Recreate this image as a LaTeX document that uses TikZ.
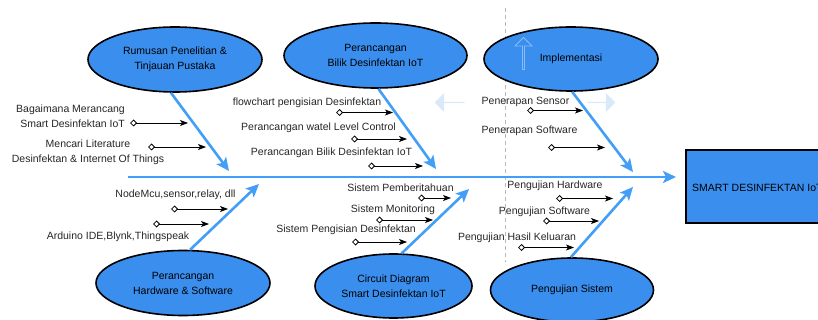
\documentclass[tikz,border=0pt]{standalone}
\usepackage{fontspec}
\setmainfont{Liberation Sans}
\usepackage{tikz}
\usetikzlibrary{positioning}
\usetikzlibrary{arrows.meta}
\usetikzlibrary{shapes}
\usetikzlibrary{calc}

\definecolor{fishblue}{RGB}{58,142,238}
\definecolor{bonecol}{RGB}{66,158,246}
\definecolor{hintblue}{RGB}{218,233,250}

\begin{document}
\begin{tikzpicture}[x=1pt,y=-1pt]

\tikzstyle{category}=[ellipse, draw, line width=1.6pt, fill=fishblue, align=center, inner sep=0pt, font=\fontsize{10.5}{15}\selectfont]
\tikzstyle{effect}=[rectangle, draw, line width=2.4pt, fill=fishblue, minimum width=145pt, minimum height=73pt, font=\fontsize{10.5}{13}\selectfont]
\tikzstyle{cause}=[text=black!85, inner sep=1pt, font=\fontsize{10.5}{14.5}\selectfont]
\tikzstyle{bone}=[draw=bonecol, line width=2.6pt, -{Stealth[length=13pt,width=12pt,inset=3pt]}]
\tikzstyle{sub}=[black, line width=0.8pt, {Diamond[open,length=7pt,width=7pt,line width=0.8pt]}-{Stealth[length=8pt,width=6pt,inset=2pt]}]
\tikzstyle{hint}=[single arrow, fill=hintblue, inner sep=0pt, single arrow head extend=3pt]

\useasboundingbox (0,0) rectangle (818,320);

% guide line behind everything
\draw[gray!55, line width=0.6pt, dash pattern=on 4pt off 3pt] (505,8) -- (505,262);

% categories
\node[category, minimum width=174pt, minimum height=65pt] (rumusan) at (175,59.5) {Rumusan Penelitian \&\\Tinjauan Pustaka};
\node[category, minimum width=183pt, minimum height=65pt] (bilik) at (375.5,55.5) {Perancangan\\Bilik Desinfektan IoT};
\node[category, minimum width=174pt, minimum height=64pt] (impl) at (571,59) {Implementasi};
\node[category, minimum width=174pt, minimum height=65pt] (hardware) at (183,283) {Perancangan\\Hardware \& Software};
\node[category, minimum width=157pt, minimum height=64pt] (circuit) at (393.5,286) {Circuit Diagram\\Smart Desinfektan IoT};
\node[category, minimum width=163pt, minimum height=64pt] (uji) at (572,290) {Pengujian Sistem};

% effect box
\node[effect] (smart) at (758.5,186.5) {};
\node[font=\fontsize{10.5}{13}\selectfont, anchor=west, inner sep=0pt] (smarttxt) at (692,188) {SMART DESINFEKTAN IoT};

% spine
\coordinate (tail) at (128,177);
\coordinate (head) at (676,177);
\draw[bone] (tail) -- (head);

% bones
\coordinate (j1) at (229,171);
\coordinate (j2) at (436,169);
\coordinate (j3) at (633,172);
\coordinate (j4) at (259,184);
\coordinate (j5) at (469,189);
\coordinate (j6) at (633,187);
\draw[bone] (rumusan.263) -- (j1);
\draw[bone] (bilik.275) -- (j2);
\draw[bone] (impl.272) -- (j3);
\draw[bone] (hardware.78) -- (j4);
\draw[bone] (circuit.76) -- (j5);
\draw[bone] (uji.92) -- (j6);

% causes: rumusan
\node[cause, anchor=east, align=right] (c11) at (126,116) {Bagaimana Merancang\\Smart Desinfektan IoT};
\node[cause, align=center] (c12) at (88,152.5) {Mencari Literature\\Desinfektan \& Internet Of Things};
\coordinate (s11) at (130,123); \coordinate (e11) at (188,123);
\coordinate (s12) at (148,147); \coordinate (e12) at (206,147);
\draw[sub] (s11) -- (e11);
\draw[sub] (s12) -- (e12);

% causes: bilik
\node[cause] (c21) at (307,103) {flowchart pengisian Desinfektan};
\node[cause] (c22) at (318.5,128) {Perancangan watel Level Control};
\node[cause] (c23) at (331.5,153) {Perancangan Bilik Desinfektan IoT};
\coordinate (s21) at (336,112.5); \coordinate (e21) at (393,112.5);
\coordinate (s22) at (351,139); \coordinate (e22) at (407,139);
\coordinate (s23) at (368,166); \coordinate (e23) at (423,166);
\draw[sub] (s21) -- (e21);
\draw[sub] (s22) -- (e22);
\draw[sub] (s23) -- (e23);

% causes: implementasi
\node[cause] (c31) at (525.5,102) {Penerapan Sensor};
\node[cause] (c32) at (529.5,131) {Penerapan Software};
\coordinate (s31) at (527,110.5); \coordinate (e31) at (583,110.5);
\coordinate (s32) at (548,147.5); \coordinate (e32) at (605,147.5);
\draw[sub] (s31) -- (e31);
\draw[sub] (s32) -- (e32);

% causes: hardware
\node[cause] (c41) at (175.5,195) {NodeMcu,sensor,relay, dll};
\node[cause] (c42) at (118,237) {Arduino IDE,Blynk,Thingspeak};
\coordinate (s41) at (171,209); \coordinate (e41) at (228,209);
\coordinate (s42) at (153,224); \coordinate (e42) at (209,224);
\draw[sub] (s41) -- (e41);
\draw[sub] (s42) -- (e42);

% causes: circuit
\node[cause] (c51) at (400.5,188) {Sistem Pemberitahuan};
\node[cause] (c52) at (393,210) {Sistem Monitoring};
\node[cause] (c53) at (346,230) {Sistem Pengisian Desinfektan};
\coordinate (s51) at (418,198); \coordinate (e51) at (451,198);
\coordinate (s52) at (376,220); \coordinate (e52) at (433,220);
\coordinate (s53) at (352,242); \coordinate (e53) at (407,242);
\draw[sub] (s51) -- (e51);
\draw[sub] (s52) -- (e52);
\draw[sub] (s53) -- (e53);

% causes: pengujian
\node[cause] (c61) at (555,186) {Pengujian Hardware};
\node[cause] (c62) at (544.5,212) {Pengujian Software};
\node[cause] (c63) at (517,238) {Pengujian Hasil Keluaran};
\coordinate (s61) at (556,198.5); \coordinate (e61) at (613,198.5);
\coordinate (s62) at (543,221); \coordinate (e62) at (599,221);
\coordinate (s63) at (518,247.5); \coordinate (e63) at (574,247.5);
\draw[sub] (s61) -- (e61);
\draw[sub] (s62) -- (e62);
\draw[sub] (s63) -- (e63);

% faint move handles
\node[hint, minimum height=30pt, minimum width=19pt, shape border rotate=180] (hleft) at (450,102.5) {};
\node[hint, minimum height=28pt, minimum width=19pt] (hright) at (601,102.5) {};
\node[hint, fill=none, draw=white!40!fishblue, line width=0.8pt, minimum height=32pt, minimum width=17pt, shape border rotate=90] (hup) at (523.5,54) {};

\end{tikzpicture}
\end{document}
